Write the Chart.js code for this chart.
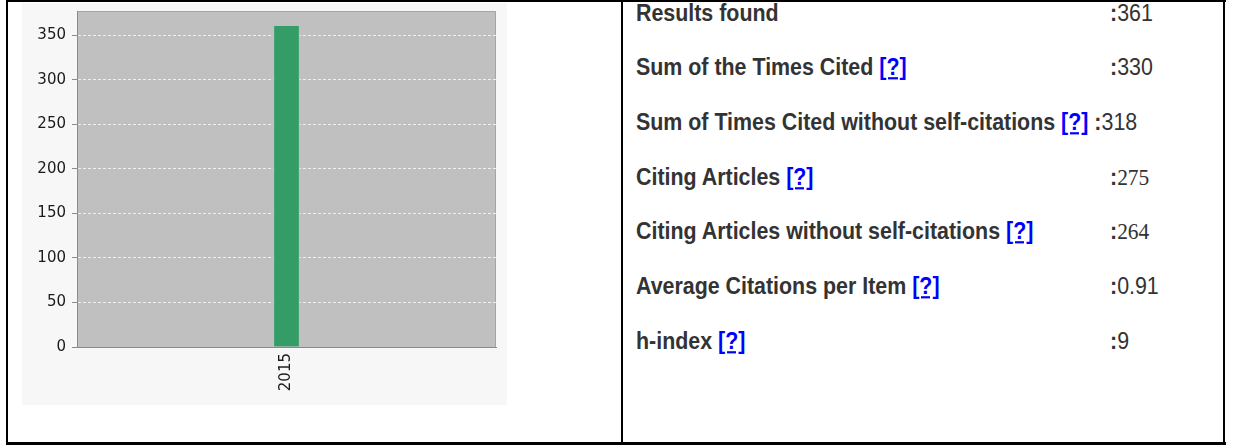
<!DOCTYPE html>
<html>
<head>
<meta charset="utf-8">
<script src="https://cdn.jsdelivr.net/npm/chart.js@4.4.1/dist/chart.umd.min.js"></script>
<style>
  html, body { margin: 0; padding: 0; background: #fff; }
  body { width: 1234px; height: 448px; position: relative; overflow: hidden;
         font-family: "Liberation Sans", Arial, sans-serif; }
  .rule { position: absolute; background: #000; }
  #chart-box { position: absolute; left: 22px; top: 3px; width: 485px; height: 402px; background: #f7f7f7; }
  .row { position: absolute; left: 636px; width: 580px; height: 24px; line-height: 24px;
         font-size: 21.4px; font-weight: bold; color: #333; white-space: nowrap;
         transform: scaleY(1.1); transform-origin: 0 19px; }
  .row a { color: #0000ff; text-decoration: underline; }
  .val { position: absolute; left: 474px; top: 0; }
  .inline { position: static; }
  .num { font-weight: normal; }
  .serif { font-family: "Liberation Serif", "Times New Roman", serif; }
</style>
</head>
<body>
  <!-- table borders -->
  <div class="rule" style="left:6px; top:0; width:1220px; height:2px;"></div>
  <div class="rule" style="left:6px; top:442px; width:1220px; height:3px;"></div>
  <div class="rule" style="left:6px; top:0; width:2px; height:445px;"></div>
  <div class="rule" style="left:621px; top:0; width:2px; height:445px;"></div>
  <div class="rule" style="left:1223px; top:0; width:2px; height:445px;"></div>

  <div id="chart-box"><canvas id="recordsChart" width="485" height="402"></canvas></div>

  <div class="row" style="top:2px;">Results found<span class="val">:<span class="num">361</span></span></div>
  <div class="row" style="top:56px;">Sum of the Times Cited <a href="#">[?]</a><span class="val">:<span class="num">330</span></span></div>
  <div class="row" style="top:111px;">Sum of Times Cited without self-citations <a href="#">[?]</a> <span class="val inline">:<span class="num">318</span></span></div>
  <div class="row" style="top:166px;">Citing Articles <a href="#">[?]</a><span class="val">:<span class="num serif">275</span></span></div>
  <div class="row" style="top:220px;">Citing Articles without self-citations <a href="#">[?]</a><span class="val">:<span class="num serif">264</span></span></div>
  <div class="row" style="top:275px;">Average Citations per Item <a href="#">[?]</a><span class="val">:<span class="num">0.91</span></span></div>
  <div class="row" style="top:330px;">h-index <a href="#">[?]</a><span class="val">:<span class="num">9</span></span></div>

<script>
    // records per publication year
    const years = ['2015'];
    const records = [361];
    const yMax = 377;
    const yStep = 50;

    const tickFont = { family: "'DejaVu Sans', sans-serif", size: 15 };

    // grey plot area with a thin frame on top/right
    const plotBg = {
        id: 'plotBg',
        beforeDraw(chart) {
            const { ctx, chartArea: a } = chart;
            ctx.save();
            ctx.fillStyle = '#c0c0c0';
            ctx.fillRect(a.left, a.top, a.right - a.left, a.bottom - a.top);
            ctx.strokeStyle = '#a4a4a4';
            ctx.lineWidth = 1;
            ctx.beginPath();
            ctx.moveTo(a.left, a.top + 0.5);
            ctx.lineTo(a.right - 0.5, a.top + 0.5);
            ctx.lineTo(a.right - 0.5, a.bottom);
            ctx.stroke();
            ctx.restore();
        }
    };

    new Chart(document.getElementById('recordsChart'), {
        type: 'bar',
        data: {
            labels: years,
            datasets: [{
                data: records,
                backgroundColor: '#349c66',
                borderColor: '#9fd3b4',
                borderWidth: 1,
                barThickness: 26
            }]
        },
        options: {
            responsive: false,
            devicePixelRatio: 1,
            animation: false,
            layout: { padding: { top: 8, right: 11, left: 0, bottom: 0 } },
            plugins: { legend: { display: false }, tooltip: { enabled: false } },
            scales: {
                y: {
                    min: 0,
                    max: yMax,
                    afterBuildTicks(scale) {
                        scale.ticks = scale.ticks.filter(t => t.value % yStep === 0);
                    },
                    afterFit(scale) {
                        scale.width = 55;
                        scale.paddingTop = 0;
                        scale.paddingBottom = 0;
                    },
                    ticks: { stepSize: yStep, font: tickFont, color: '#1a1a1a', padding: 6 },
                    grid: { color: '#efefef', lineWidth: 1, tickLength: 5, tickColor: '#8a8a8a', tickBorderDash: [] },
                    border: { color: '#8a8a8a', width: 1, dash: [3, 2] }
                },
                x: {
                    afterFit(scale) {
                        scale.height = 58;
                        scale.paddingLeft = 0;
                        scale.paddingRight = 0;
                    },
                    ticks: { font: tickFont, color: '#1a1a1a', minRotation: 90, maxRotation: 90, padding: 6 },
                    grid: { display: false, drawTicks: false },
                    border: { color: '#8a8a8a', width: 1 }
                }
            }
        },
        plugins: [plotBg]
    });
</script>
</body>
</html>
